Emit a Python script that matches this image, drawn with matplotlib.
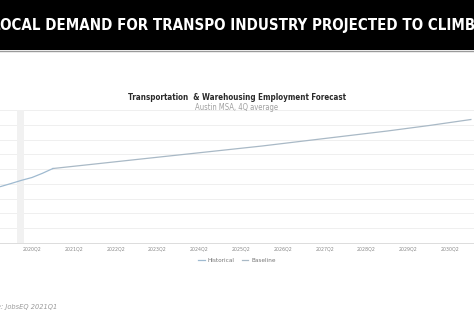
import matplotlib
matplotlib.use("Agg")
import matplotlib.pyplot as plt
from matplotlib import font_manager

# Quarter index: 0 = 2019Q1
hist_q = [2, 3, 4, 5, 6, 7]
hist_v = [54100, 55130, 56210, 57160, 58580, 60200]
base_q = [7, 11, 15, 19, 23, 27, 31, 35, 39, 43, 47]
base_v = [60200, 61720, 63250, 64770, 66290, 67810, 69510, 71200, 72890, 74750, 76780]
tick_q = [5, 9, 13, 17, 21, 25, 29, 33, 37, 41, 45]
tick_labels = ["2020Q2", "2021Q2", "2022Q2", "2023Q2", "2024Q2", "2025Q2",
               "2026Q2", "2027Q2", "2028Q2", "2029Q2", "2030Q2"]
grid_v = list(range(35000, 80001, 5000))

fonts = font_manager.fontManager.ttflist
cond = [f for f in fonts if f.name == "DejaVu Sans" and f.stretch == "condensed"]
STRETCH = "condensed" if cond else "normal"
FAM = "DejaVu Sans"

W, H = 474, 324
fig = plt.figure(figsize=(W / 100, H / 100), dpi=100)
fig.patch.set_facecolor("white")
renderer = fig.canvas.get_renderer()


def fit_width(txt, width_px):
    """Scale a text's font size so it spans the given width in pixels."""
    bb = txt.get_window_extent(renderer=renderer)
    txt.set_fontsize(txt.get_fontsize() * width_px / bb.width)


# Black header band
band = fig.add_axes([0, 1 - 50 / H, 1, 50 / H])
band.set_facecolor("black")
band.set_xticks([]); band.set_yticks([])
for s in band.spines.values():
    s.set_visible(False)
band.set_xlim(0, W); band.set_ylim(0, 50)
head = band.text(234, 24.5, "LOCAL DEMAND FOR TRANSPO INDUSTRY PROJECTED TO CLIMB",
                 color="white", fontsize=13, fontweight="bold", family=FAM,
                 stretch=STRETCH, ha="center", va="center")
fit_width(head, 482)
fig.add_artist(plt.Line2D([0, 1], [1 - 50.5 / H] * 2, color="#9a9a9a", lw=1.0))

# Chart area
ax = fig.add_axes([0, 1 - 243 / H, 1, (243 - 110) / H])
ax.set_xlim(1.94, 47.3)
ax.set_ylim(35000, 80000)
ax.set_facecolor("white")
for y in grid_v:
    ax.axhline(y, color="#efefef", lw=0.7, zorder=0)
ax.axvspan(3.56, 4.23, color="#f1f1f1", zorder=0.5, lw=0)
ax.plot(hist_q, hist_v, color="#9fbad0", lw=0.9, label="Historical", zorder=3)
ax.plot(base_q, base_v, color="#a9b9c6", lw=0.9, label="Baseline", zorder=2)
for s in ["top", "right", "left"]:
    ax.spines[s].set_visible(False)
ax.spines["bottom"].set_color("#dcdcdc")
ax.spines["bottom"].set_linewidth(0.7)
ax.set_yticks([])
ax.set_xticks(tick_q)
ax.set_xticklabels(tick_labels, fontsize=3.8, color="#8a8a8a", family=FAM,
                   stretch=STRETCH)
ax.tick_params(axis="x", length=0, pad=2.5)

leg = ax.legend(loc="upper center", bbox_to_anchor=(0.5, -0.065), ncol=2,
                frameon=False, handlelength=1.0, handletextpad=0.4,
                columnspacing=1.2, labelcolor="#777777",
                prop={"family": FAM, "stretch": STRETCH, "size": 4.6})

title = fig.text(237 / W, 1 - 97 / H,
                 "Transportation  & Warehousing Employment Forecast",
                 ha="center", va="center", fontsize=7, fontweight="bold",
                 color="#2a2a2a", family=FAM, stretch=STRETCH)
fit_width(title, 217)
sub = fig.text(237 / W, 1 - 107 / H, "Austin MSA, 4Q average",
               ha="center", va="center", fontsize=5, color="#a0a0a0",
               family=FAM, stretch=STRETCH)
fit_width(sub, 85)
src = fig.text(57.5 / W, 1 - 307 / H, "Source: JobsEQ 2021Q1", ha="right",
               va="center", fontsize=5.3, style="italic", color="#9a9a9a",
               family=FAM, stretch=STRETCH)

fig.savefig("out.png", dpi=100, facecolor="white")
